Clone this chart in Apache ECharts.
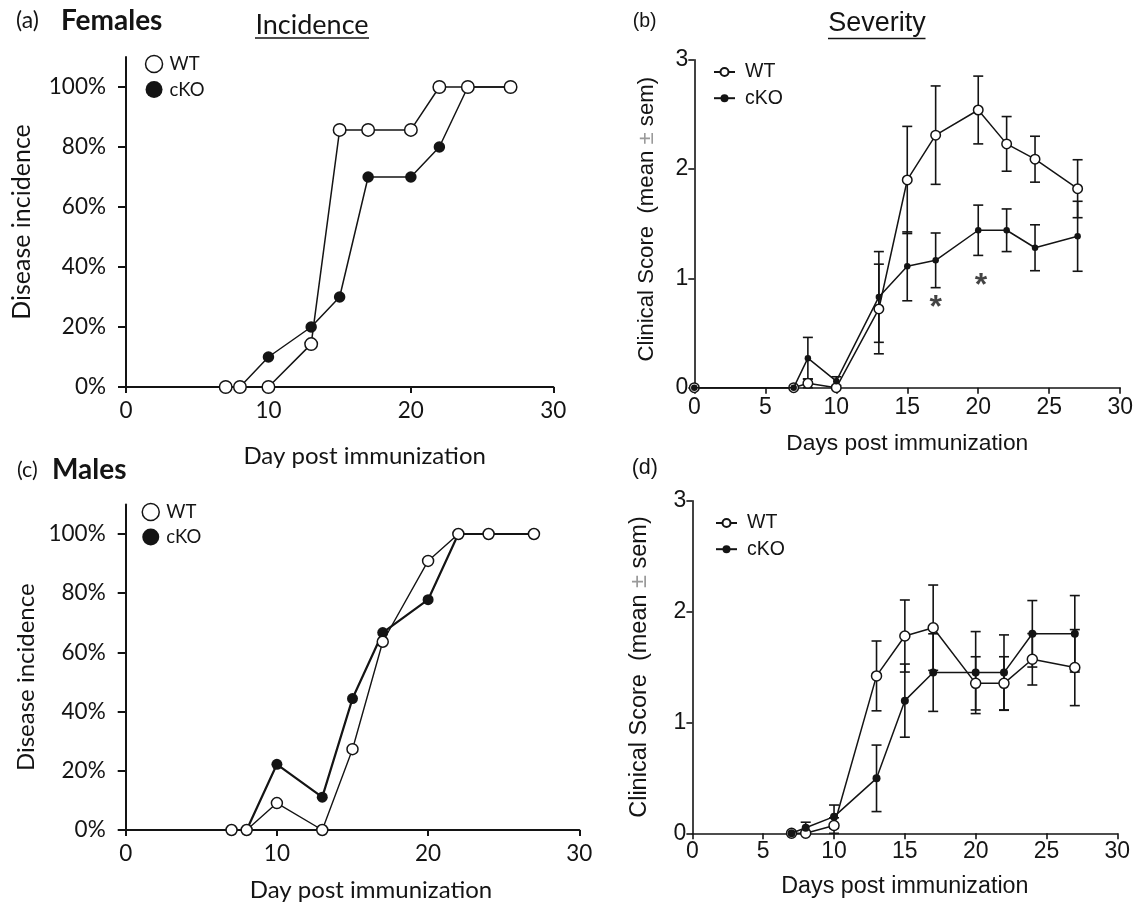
<!DOCTYPE html>
<html>
<head>
<meta charset="utf-8">
<script src="https://cdn.jsdelivr.net/npm/echarts@6/dist/echarts.min.js"></script>
<style>html,body{margin:0;padding:0;background:#fff;}#c{width:1136px;height:905px;}</style>
</head>
<body>
<div id="c"></div>
<script>
// ---- Data ----
const incDays = [7, 8, 10, 13, 15, 17, 20, 22, 24, 27];
const femIncWT = [0, 0, 0, 14.3, 85.7, 85.7, 85.7, 100, 100, 100];
const femIncKO = [0, 0, 10, 20, 30, 70, 70, 80, 100, 100];
const maleIncWT = [0, 0, 9.1, 0, 27.3, 63.6, 90.9, 100, 100, 100];
const maleIncKO = [0, 0, 22.2, 11.1, 44.4, 66.7, 77.8, 100, 100, 100];

const femSevDays = [0, 7, 8, 10, 13, 15, 17, 20, 22, 24, 27];
const femSevWT = [0, 0, 0.04, 0, 0.72, 1.90, 2.31, 2.54, 2.23, 2.09, 1.82];
const femSemWT = [0, 0, 0.04, 0, 0.41, 0.49, 0.45, 0.31, 0.25, 0.21, 0.265];
const femSevKO = [0, 0, 0.27, 0.06, 0.83, 1.11, 1.165, 1.44, 1.44, 1.28, 1.385];
const femSemKO = [0, 0, 0.19, 0.04, 0.415, 0.315, 0.25, 0.23, 0.195, 0.21, 0.32];

const maleSevDays = [7, 8, 10, 13, 15, 17, 20, 22, 24, 27];
const maleSevWT = [0, 0, 0.07, 1.42, 1.78, 1.855, 1.353, 1.353, 1.57, 1.495];
const maleSemWT = [0, 0, 0.07, 0.315, 0.325, 0.385, 0.24, 0.24, 0.232, 0.343];
const maleSevKO = [0, 0.05, 0.15, 0.496, 1.197, 1.45, 1.45, 1.45, 1.80, 1.80];
const maleSemKO = [0, 0.05, 0.105, 0.30, 0.33, 0.35, 0.37, 0.34, 0.30, 0.345];

const sigDays = [17, 20.2];
const sigScores = [0.79, 0.99];

const incTicks = [0, 20, 40, 60, 80, 100];

// ---- helpers ----
const INK = '#141414';
const CAL = 'Lato';
const ARI = 'Liberation Sans';
const pairs = (xs, ys) => xs.map((x, i) => [x, ys[i]]);
const errData = (xs, ys, es) => xs.map((x, i) => [x, ys[i] - es[i], ys[i] + es[i], es[i]]);

function errRender(params, api) {
  if (api.value(3) <= 0) return null;
  const x = api.value(0);
  const p1 = api.coord([x, api.value(1)]);
  const p2 = api.coord([x, api.value(2)]);
  const w = 5;
  const st = { stroke: INK, lineWidth: 1.6 };
  return {
    type: 'group',
    children: [
      { type: 'line', shape: { x1: p1[0], y1: p1[1], x2: p2[0], y2: p2[1] }, style: st },
      { type: 'line', shape: { x1: p1[0] - w, y1: p1[1], x2: p1[0] + w, y2: p1[1] }, style: st },
      { type: 'line', shape: { x1: p2[0] - w, y1: p2[1], x2: p2[0] + w, y2: p2[1] }, style: st }
    ]
  };
}

function lineSeries(name, gi, data, open, size, lw, z) {
  return {
    name, type: 'line', xAxisIndex: gi, yAxisIndex: gi, data,
    symbol: 'circle', symbolSize: size, showSymbol: true, clip: false,
    lineStyle: { color: INK, width: lw },
    itemStyle: open ? { color: '#fff', borderColor: INK, borderWidth: 1.5 } : { color: INK, borderColor: INK, borderWidth: 0 },
    z, animation: false, silent: true
  };
}
function errSeries(gi, data) {
  return {
    type: 'custom', xAxisIndex: gi, yAxisIndex: gi, data, renderItem: errRender,
    encode: { x: 0, y: [1, 2] }, z: 1, animation: false, silent: true
  };
}

function incX(gi, nameGap, padLeft, fs) {
  return {
    gridIndex: gi, type: 'value', min: 0, max: 30, interval: 10,
    name: 'Day post immunization', nameLocation: 'middle', nameGap,
    nameTextStyle: { fontFamily: CAL, fontSize: fs, color: INK, padding: [0, 0, 0, padLeft] },
    axisLine: { lineStyle: { color: INK, width: 2 } },
    axisTick: { show: true, length: 6, lineStyle: { color: INK, width: 2 } },
    axisLabel: { fontFamily: CAL, fontSize: 22.5, color: INK, margin: 12 },
    splitLine: { show: false }
  };
}
function incY(gi, nameGap, padR, fs) {
  return {
    gridIndex: gi, type: 'value', min: 0, max: 110,
    name: 'Disease incidence', nameLocation: 'middle', nameGap,
    nameTextStyle: { fontFamily: CAL, fontSize: fs, color: INK, padding: [0, padR, 0, 0] },
    axisLine: { lineStyle: { color: INK, width: 2 } },
    axisTick: { show: true, length: 8, customValues: incTicks, lineStyle: { color: INK, width: 2 } },
    axisLabel: { fontFamily: CAL, fontSize: 22.5, color: INK, margin: 20, customValues: incTicks, formatter: '{value}%' },
    splitLine: { show: false }
  };
}
function sevX(gi, nameGap, fs, lm) {
  return {
    gridIndex: gi, type: 'value', min: 0, max: 30, interval: 5,
    name: 'Days post immunization', nameLocation: 'middle', nameGap,
    nameTextStyle: { fontFamily: ARI, fontSize: fs, color: INK },
    axisLine: { lineStyle: { color: INK, width: 1.6 } },
    axisTick: { show: true, length: 6, lineStyle: { color: INK, width: 1.6 } },
    axisLabel: { fontFamily: ARI, fontSize: 23, color: INK, margin: lm },
    splitLine: { show: false }
  };
}
function sevY(gi, nameGap, fs, padL) {
  return {
    gridIndex: gi, type: 'value', min: 0, max: 3, interval: 1,
    name: 'Clinical Score  (mean {pm|\u00b1} sem)', nameLocation: 'middle', nameGap,
    nameTextStyle: { fontFamily: ARI, fontSize: fs, color: INK, padding: [0, 0, 0, padL],
      rich: { pm: { fontFamily: ARI, fontSize: fs, color: '#9a9a9a' } } },
    axisLine: { lineStyle: { color: INK, width: 1.6 } },
    axisTick: { show: true, length: 6, lineStyle: { color: INK, width: 1.6 } },
    axisLabel: { fontFamily: ARI, fontSize: 23, color: INK, margin: 6 },
    splitLine: { show: false }
  };
}
function circleLegend(prefix, left, top, gap) {
  return {
    orient: 'vertical', left, top, padding: 0, itemGap: gap, itemWidth: 17, itemHeight: 17,
    selectedMode: false,
    textStyle: { fontFamily: CAL, fontSize: 18.5, color: INK, padding: [0, 0, 0, 2] },
    formatter: n => n.split(':')[1],
    data: [
      { name: prefix + ':WT', icon: 'circle', itemStyle: { color: '#fff', borderColor: INK, borderWidth: 1.5 } },
      { name: prefix + ':cKO', icon: 'circle', itemStyle: { color: INK, borderColor: INK, borderWidth: 0 } }
    ]
  };
}
function lineLegend(prefix, left, top, gap) {
  return {
    orient: 'vertical', left, top, padding: 0, itemGap: gap, itemWidth: 21, itemHeight: 10,
    selectedMode: false,
    textStyle: { fontFamily: ARI, fontSize: 19.5, color: INK, padding: [0, 0, 0, 5] },
    formatter: n => n.split(':')[1],
    data: [prefix + ':WT', prefix + ':cKO']
  };
}

const option = {
  backgroundColor: '#fff',
  animation: false,
  grid: [
    { left: 126, top: 57, width: 427.3, height: 330 },
    { left: 694.3, top: 59.7, width: 428.1, height: 328 },
    { left: 125.7, top: 504.4, width: 453.6, height: 325.6 },
    { left: 692.4, top: 500.8, width: 424.9, height: 332.5 }
  ],
  xAxis: [incX(0, 57, 50, 24), sevX(1, 45, 22.8, 8), incX(2, 48, 37, 24), sevX(3, 42, 23.3, 7)],
  yAxis: [incY(0, 92, 0, 25), sevY(1, 36, 22.2, 9), incY(2, 87, 20, 24), sevY(3, 41, 23.5, 0)],
  legend: [
    circleLegend('a', 144.8, 54.5, 6.6),
    lineLegend('b', 713, 62, 6.2),
    circleLegend('c', 141.5, 502.5, 5.9),
    lineLegend('d', 715, 513, 6.2)
  ],
  graphic: [
    { type: 'text', x: 16, y: 21, style: { text: '(a)', fontFamily: CAL, fontSize: 23, fill: INK, verticalAlign: 'middle' } },
    { type: 'text', x: 61, y: 21, style: { text: 'Females', fontFamily: CAL, fontSize: 28, fontWeight: 'bold', fill: INK, verticalAlign: 'middle' } },
    { type: 'text', x: 312, y: 25, style: { text: 'Incidence', fontFamily: CAL, fontSize: 27, fill: INK, align: 'center', verticalAlign: 'middle' } },
    { type: 'line', shape: { x1: 255, y1: 38, x2: 369, y2: 38 }, style: { stroke: INK, lineWidth: 1.6 } },
    { type: 'text', x: 632.7, y: 22, style: { text: '(b)', fontFamily: ARI, fontSize: 19.5, fill: INK, verticalAlign: 'middle' } },
    { type: 'text', x: 877, y: 24, style: { text: 'Severity', fontFamily: ARI, fontSize: 27, fill: INK, align: 'center', verticalAlign: 'middle' } },
    { type: 'line', shape: { x1: 828, y1: 38.5, x2: 925.5, y2: 38.5 }, style: { stroke: INK, lineWidth: 1.6 } },
    { type: 'text', x: 17, y: 470, style: { text: '(c)', fontFamily: CAL, fontSize: 21.5, fill: INK, verticalAlign: 'middle' } },
    { type: 'text', x: 52, y: 470, style: { text: 'Males', fontFamily: CAL, fontSize: 28, fontWeight: 'bold', fill: INK, verticalAlign: 'middle' } },
    { type: 'text', x: 631.7, y: 468, style: { text: '(d)', fontFamily: ARI, fontSize: 21.5, fill: INK, verticalAlign: 'middle' } }
  ],
  series: [
    // (a) Females incidence
    lineSeries('a:cKO', 0, pairs(incDays, femIncKO), false, 11.5, 1.5, 3),
    lineSeries('a:WT', 0, pairs(incDays, femIncWT), true, 12.5, 1.5, 4),
    // (b) Females severity
    errSeries(1, errData(femSevDays, femSevWT, femSemWT)),
    errSeries(1, errData(femSevDays, femSevKO, femSemKO)),
    lineSeries('b:WT', 1, pairs(femSevDays, femSevWT), true, 9.5, 1.5, 3),
    lineSeries('b:cKO', 1, pairs(femSevDays, femSevKO), false, 6.5, 1.5, 4),
    {
      type: 'scatter', xAxisIndex: 1, yAxisIndex: 1, data: pairs(sigDays, sigScores),
      symbolSize: 1, itemStyle: { color: 'rgba(0,0,0,0)' }, silent: true, z: 5,
      label: { show: true, position: 'inside', formatter: '*', fontFamily: ARI, fontSize: 32, fontWeight: 'bold', color: INK, offset: [0, 7] }
    },
    // (c) Males incidence
    lineSeries('c:cKO', 2, pairs(incDays, maleIncKO), false, 11, 2.2, 3),
    lineSeries('c:WT', 2, pairs(incDays, maleIncWT), true, 11, 1.4, 4),
    // (d) Males severity
    errSeries(3, errData(maleSevDays, maleSevWT, maleSemWT)),
    errSeries(3, errData(maleSevDays, maleSevKO, maleSemKO)),
    lineSeries('d:WT', 3, pairs(maleSevDays, maleSevWT), true, 10, 1.5, 3),
    lineSeries('d:cKO', 3, pairs(maleSevDays, maleSevKO), false, 8, 1.5, 4)
  ]
};

const chart = echarts.init(document.getElementById('c'), null, { renderer: 'canvas' });
chart.setOption(option);
</script>
</body>
</html>
